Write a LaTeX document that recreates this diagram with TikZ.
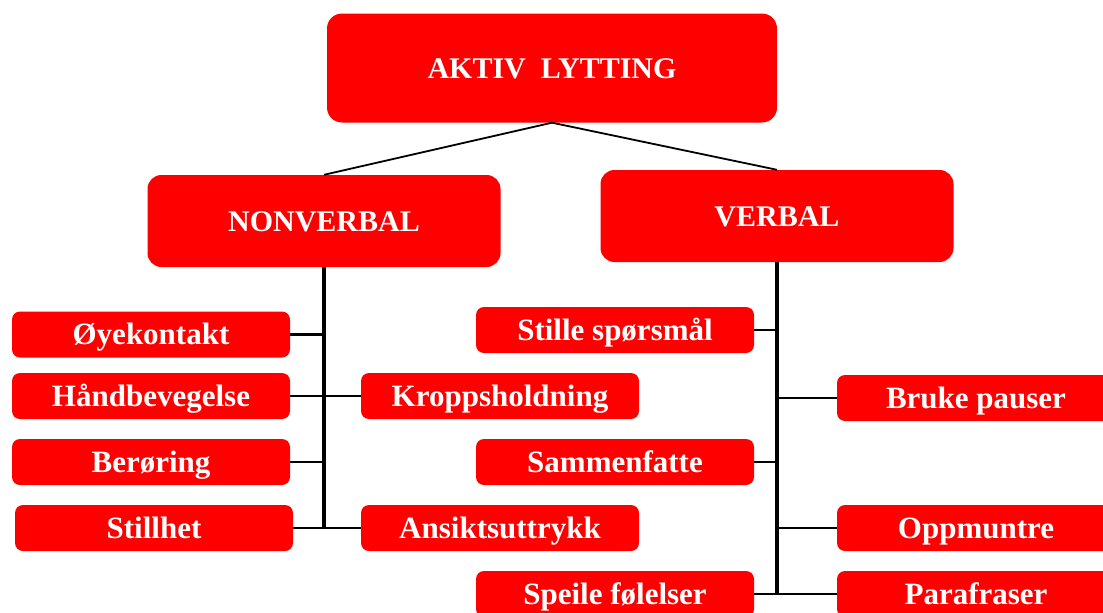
\documentclass[tikz,border=0pt]{standalone}
\usepackage{fontspec}
\setmainfont{Liberation Serif}
\usepackage{tikz}
\usetikzlibrary{positioning,calc}
\definecolor{boksrod}{RGB}{255,0,0}
\tikzset{
  hovedboks/.style={fill=boksrod,rounded corners=15pt,minimum width=450pt,minimum height=109pt,inner sep=0pt,text=white,text height=20pt,text depth=0pt,font=\fontsize{30}{36}\selectfont\bfseries},
  kategoriboks/.style={fill=boksrod,rounded corners=14pt,minimum width=353pt,minimum height=92pt,inner sep=0pt,text=white,text height=20pt,text depth=0pt,font=\fontsize{30}{36}\selectfont\bfseries},
  punktboks/.style={fill=boksrod,rounded corners=8pt,minimum width=278pt,minimum height=46pt,inner sep=0pt,text=white,text height=20pt,text depth=0pt,font=\fontsize{31}{36}\selectfont\bfseries},
  skraa/.style={black,line width=1.8pt},
  stamme/.style={black,line width=3.2pt},
  gren/.style={black,line width=2.2pt}
}
\begin{document}
\begin{tikzpicture}[x=1pt,y=-1pt]
  \useasboundingbox (0,0) rectangle (1103,613);
  \clip (0,0) rectangle (1103,613);
  \node[hovedboks] (aktiv) at (552,68) {AKTIV\ \ LYTTING};
  \node[kategoriboks] (nonverbal) at (324,221) {NONVERBAL};
  \node[kategoriboks] (verbal) at (777,216) {VERBAL};
  \node[punktboks] (oyekontakt) at (151,334.5) {Øyekontakt};
  \node[punktboks] (handbev) at (151,396) {Håndbevegelse};
  \node[punktboks] (beroring) at (151,462) {Berøring};
  \node[punktboks] (stillhet) at (154,528) {Stillhet};
  \node[punktboks] (kropp) at (500,396) {Kroppsholdning};
  \node[punktboks] (ansikt) at (500,528) {Ansiktsuttrykk};
  \node[punktboks] (stille) at (615,330) {Stille spørsmål};
  \node[punktboks] (bruke) at (976,398) {Bruke pauser};
  \node[punktboks] (sammen) at (615,462) {Sammenfatte};
  \node[punktboks] (oppmuntre) at (976,528) {Oppmuntre};
  \node[punktboks] (speile) at (615,594) {Speile følelser};
  \node[punktboks] (parafraser) at (976,594) {Parafraser};
  \draw[skraa] (aktiv.south) -- (nonverbal.north);
  \draw[skraa] (aktiv.south) -- (verbal.north);
  \coordinate (nvbunn) at (nonverbal.south |- stillhet.east);
  \coordinate (vbunn) at (verbal.south |- speile.east);
  \draw[stamme] (nonverbal.south) -- (nvbunn);
  \draw[stamme] (verbal.south) -- (vbunn);
  \draw[gren] (oyekontakt.east) -- (oyekontakt.east -| nonverbal.south);
  \draw[gren] (handbev.east) -- (kropp.west);
  \draw[gren] (beroring.east) -- (beroring.east -| nonverbal.south);
  \draw[gren] (stillhet.east) -- (ansikt.west);
  \draw[gren] (stille.east) -- (stille.east -| verbal.south);
  \draw[gren] (bruke.west) -- (bruke.west -| verbal.south);
  \draw[gren] (sammen.east) -- (sammen.east -| verbal.south);
  \draw[gren] (oppmuntre.west) -- (oppmuntre.west -| verbal.south);
  \draw[gren] (speile.east) -- (parafraser.west);
\end{tikzpicture}
\end{document}
